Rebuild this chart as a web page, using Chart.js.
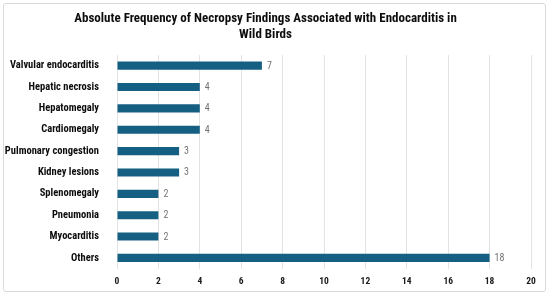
<!DOCTYPE html>
<html>
<head>
<meta charset="utf-8">
<script src="https://cdn.jsdelivr.net/npm/chart.js@4/dist/chart.umd.min.js"></script>
<style>
  html, body { margin: 0; padding: 0; background: #fff; }
  #wrap { position: relative; width: 550px; height: 295px; }
  #frame { position: absolute; left: 3px; top: 3px; width: 541px; height: 287px;
           border: 1px solid #d9d9d9; border-radius: 3px; pointer-events: none; }
</style>
</head>
<body>
<div id="wrap">
  <canvas id="chart" width="550" height="295"></canvas>
  <div id="frame"></div>
</div>
<script>
// — data —
const findings = ['Valvular endocarditis', 'Hepatic necrosis', 'Hepatomegaly', 'Cardiomegaly',
  'Pulmonary congestion', 'Kidney lesions', 'Splenomegaly', 'Pneumonia', 'Myocarditis', 'Others'];
const counts = [7, 4, 4, 4, 3, 3, 2, 2, 2, 18];
const titleLines = ['Absolute Frequency of Necropsy Findings Associated with Endocarditis in', 'Wild Birds'];

const FONT = '"Roboto Condensed", Roboto, sans-serif';

// value labels at bar ends
const barValues = {
  id: 'barValues',
  afterDatasetsDraw(chart) {
    const ctx = chart.ctx;
    const meta = chart.getDatasetMeta(0);
    ctx.save();
    ctx.font = '10px ' + FONT;
    ctx.fillStyle = '#737373';
    ctx.textAlign = 'left';
    ctx.textBaseline = 'middle';
    meta.data.forEach((bar, i) => {
      ctx.fillText(String(counts[i]), bar.x + 5, bar.y + 0.5);
    });
    ctx.restore();
  }
};

new Chart(document.getElementById('chart'), {
  type: 'bar',
  data: {
    labels: findings,
    datasets: [{
      data: counts,
      backgroundColor: '#156082',
      borderWidth: 0,
      barPercentage: 0.38,
      categoryPercentage: 1
    }]
  },
  options: {
    indexAxis: 'y',
    responsive: false,
    animation: false,
    layout: { padding: { left: 0, right: 19, top: 0, bottom: 1 } },
    scales: {
      x: {
        min: 0, max: 20,
        ticks: { stepSize: 2, padding: 7, color: '#1a1a1a', font: { family: FONT, size: 9.5, weight: 'bold' } },
        grid: { color: '#e3e3e3', drawTicks: false },
        border: { display: false }
      },
      y: {
        afterFit(scale) { scale.width = 117; },
        ticks: { padding: 10, color: '#0d0d0d', font: { family: FONT, size: 10.5, weight: 'bold' } },
        grid: { display: false },
        border: { display: false }
      }
    },
    plugins: {
      legend: { display: false },
      tooltip: { enabled: false },
      title: {
        display: true,
        text: titleLines,
        color: '#0d0d0d',
        font: { family: FONT, size: 13, weight: 'bold', lineHeight: 1.23 },
        padding: { top: 11, bottom: 12 }
      }
    }
  },
  plugins: [barValues]
});
</script>
</body>
</html>
